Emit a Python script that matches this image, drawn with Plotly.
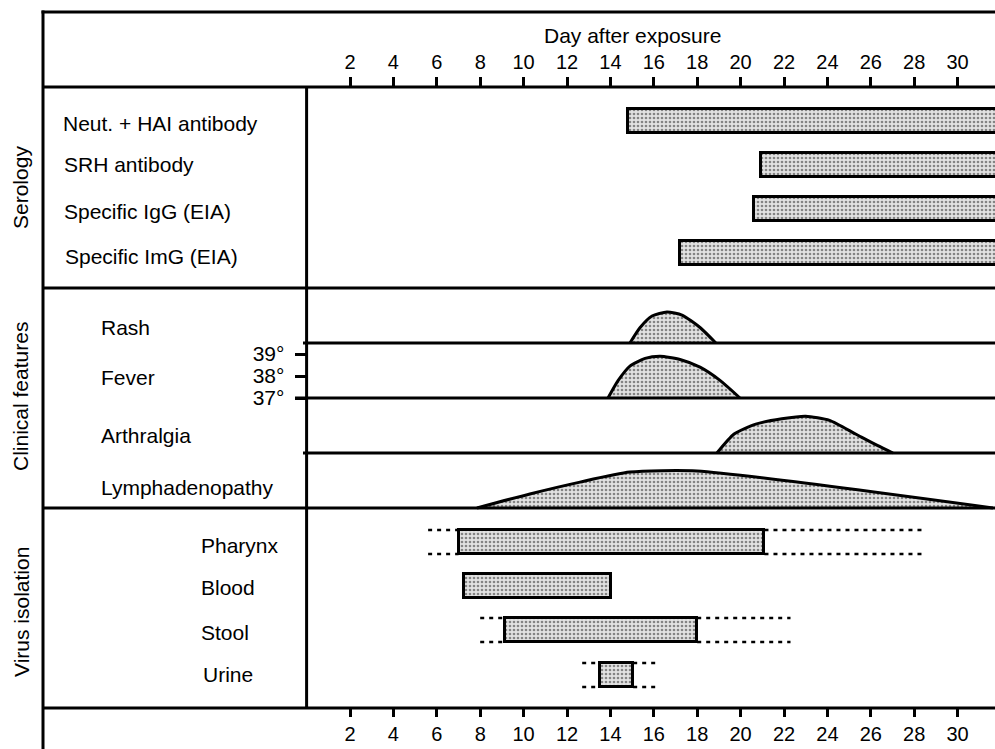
import plotly.graph_objects as go

# ---------------- data ----------------
day_ticks = list(range(2, 31, 2))
ONGOING = 32  # beyond the last plotted day

serology_labels = ["Neut. + HAI antibody", "SRH antibody", "Specific IgG (EIA)", "Specific ImG (EIA)"]
serology_start = [14.8, 20.95, 20.6, 17.2]
serology_end = [ONGOING, ONGOING, ONGOING, ONGOING]

clinical_labels = ["Rash", "Fever", "Arthralgia", "Lymphadenopathy"]
rash_day = [14.9, 15.37, 15.92, 16.61, 17.3, 18.13, 18.86]
rash_level = [0, 0.5, 0.87, 1.0, 0.9, 0.5, 0]
fever_day = [13.89, 14.36, 14.9, 15.6, 16.29, 17.21, 18.13, 19.05, 19.97]
fever_temp = [37.0, 37.8, 38.45, 38.8, 38.9, 38.75, 38.4, 37.8, 37.0]
temp_ticks = [37, 38, 39]
arth_day = [18.91, 19.7, 20.7, 21.9, 23.0, 24.1, 25.3, 26.3, 27.02]
arth_level = [0, 0.5, 0.76, 0.9, 0.97, 0.86, 0.5, 0.2, 0]
lymph_day = [7.85, 10.29, 12.6, 14.9, 17.99, 31.63]
lymph_level = [0, 0.38, 0.7, 0.97, 1.0, 0]

virus_labels = ["Pharynx", "Blood", "Stool", "Urine"]
virus_start = [7.0, 7.25, 9.15, 13.5]
virus_end = [21.1, 14.05, 18.0, 15.05]
virus_dash_start = [5.6, None, 8.0, 12.7]
virus_dash_end = [28.5, None, 22.3, 16.1]

# ---------------- layout constants (pixels) ----------------
W, H = 995, 749
PPD = 21.7        # pixels per day
X0 = 306.6        # pixel of day 0
LEFT = 43
FONT = "Liberation Sans, Arial, Helvetica, sans-serif"
LW = 3
FILL = dict(shape=".", fgcolor="#262626", bgcolor="#e2e2e2", size=4, solidity=0.35)
FILLC = "#d6d6d6"

serology_bar_y = [121, 164.5, 209, 253]
serology_text_y = [123, 164, 211, 256]
virus_bar_y = [542, 585.5, 630, 675]
virus_text_y = [545, 587, 632, 674]
BAR_H = 24

rash_base, rash_h = 343, 31
arth_base, arth_h = 453, 38
lymph_base, lymph_h = 508, 37
fever_base_px, fever_px_per_deg = 398, 22


def day_at(p):
    return (p - X0) / PPD


def fx(p):
    return p / W


fig = go.Figure()

# bars (serology + virus isolation)
bar_y = serology_bar_y + virus_bar_y
bar_start = serology_start + virus_start
bar_end = serology_end + virus_end
fig.add_trace(go.Bar(
    orientation="h", y=bar_y, base=bar_start,
    x=[e - s for s, e in zip(bar_start, bar_end)],
    width=[BAR_H] * len(bar_y),
    marker=dict(color=FILLC, line=dict(color="black", width=LW), pattern=FILL),
    showlegend=False, hoverinfo="skip", xaxis="x", yaxis="y"))

# dashed extensions for virus isolation
for i in range(len(virus_labels)):
    if virus_dash_start[i] is None:
        continue
    for edge in (-BAR_H / 2, BAR_H / 2):
        yy = virus_bar_y[i] + edge
        for a, b in ((virus_dash_start[i], virus_start[i]), (virus_end[i], virus_dash_end[i])):
            fig.add_trace(go.Scatter(x=[a, b], y=[yy, yy], mode="lines",
                                     line=dict(color="black", width=2.5, dash="4px,5px"),
                                     showlegend=False, hoverinfo="skip"))

# humps
def hump(days, levels, base, h):
    fig.add_trace(go.Scatter(
        x=days, y=[base - h * v for v in levels], mode="lines", fill="toself",
        fillcolor=FILLC, fillpattern=FILL,
        line=dict(color="black", width=LW, shape="spline", smoothing=0.6),
        showlegend=False, hoverinfo="skip"))

hump(rash_day, rash_level, rash_base, rash_h)
hump(arth_day, arth_level, arth_base, arth_h)
hump(lymph_day, lymph_level, lymph_base, lymph_h)

fig.add_trace(go.Scatter(
    x=fever_day, y=fever_temp, mode="lines", fill="toself",
    fillcolor=FILLC, fillpattern=FILL,
    line=dict(color="black", width=LW, shape="spline", smoothing=0.6),
    showlegend=False, hoverinfo="skip", xaxis="x", yaxis="y2"))

# dummy traces for tick axes
fig.add_trace(go.Scatter(x=[None], y=[None], xaxis="x2", yaxis="y", showlegend=False))
fig.add_trace(go.Scatter(x=[None], y=[None], xaxis="x3", yaxis="y", showlegend=False))

# frame lines
shapes = []
def hline(y, x_a, x_b, yref="y"):
    shapes.append(dict(type="line", xref="paper", yref=yref, x0=fx(x_a), x1=fx(x_b),
                       y0=y, y1=y, line=dict(color="black", width=LW)))
def vline(x, y_a, y_b):
    shapes.append(dict(type="line", xref="paper", yref="y", x0=fx(x), x1=fx(x),
                       y0=y_a, y1=y_b, line=dict(color="black", width=LW)))

hline(12, LEFT - 1.5, W)
hline(87, LEFT, W)
hline(288, LEFT, W)
hline(508, LEFT, W)
hline(708, LEFT, W)
vline(LEFT, 10.5, H)
vline(X0, 87, 708)
hline(rash_base, 303, W)
hline(arth_base, 303, W)
hline(temp_ticks[0], 295, W, yref="y2")

# annotations
ann = []
def text(x, y, s, anchor="left", angle=0, size=21):
    ann.append(dict(x=fx(x), y=y, xref="paper", yref="y", text=s, showarrow=False,
                    xanchor=anchor, yanchor="middle", textangle=angle,
                    font=dict(family=FONT, size=size, color="black")))

text(632, 35, "Day after exposure", anchor="center")
for lbl, y, x in zip(serology_labels, serology_text_y, [61, 62, 62, 63]):
    text(x, y, lbl)
for lbl, y in zip(clinical_labels, [327, 377, 435, 487]):
    text(99, y, lbl)
for lbl, y, x in zip(virus_labels, virus_text_y, [199, 199, 199, 201]):
    text(x, y, lbl)
text(20, 188, "Serology", anchor="center", angle=-90)
text(20, 397, "Clinical features", anchor="center", angle=-90)
text(21, 612, "Virus isolation", anchor="center", angle=-90)

tickfont = dict(family=FONT, size=20, color="black")
fever_top_px = 332
fever_bottom_px = 420
fig.update_layout(
    width=W, height=H, margin=dict(l=0, r=0, t=0, b=0, autoexpand=False),
    paper_bgcolor="white", plot_bgcolor="rgba(0,0,0,0)",
    barmode="overlay", bargap=0,
    shapes=shapes, annotations=ann,
    xaxis=dict(domain=[0, 1], range=[day_at(0), day_at(W)], visible=False, fixedrange=True),
    yaxis=dict(domain=[0, 1], range=[H, 0], visible=False, fixedrange=True),
    yaxis2=dict(domain=[1 - fever_bottom_px / H, 1 - fever_top_px / H],
                range=[37 - (fever_bottom_px - fever_base_px) / fever_px_per_deg,
                       37 + (fever_base_px - fever_top_px) / fever_px_per_deg],
                anchor="free", position=fx(X0), side="left",
                tickvals=temp_ticks, ticktext=[f"{t}°" for t in temp_ticks],
                ticks="outside", ticklen=12, tickwidth=LW, tickcolor="black",
                showline=False, showgrid=False, zeroline=False,
                tickfont=dict(family=FONT, size=21, color="black"),
                ticklabelstandoff=6, fixedrange=True),
    xaxis2=dict(domain=[fx(LEFT), 1], range=[day_at(LEFT), day_at(W)],
                anchor="free", position=1 - 87 / H, side="top",
                tickvals=day_ticks, ticks="outside", ticklen=10, tickwidth=LW,
                tickcolor="black", showline=False, showgrid=False, zeroline=False,
                tickfont=tickfont, fixedrange=True),
    xaxis3=dict(domain=[fx(LEFT), 1], range=[day_at(LEFT), day_at(W)],
                anchor="free", position=1 - 708 / H, side="bottom",
                tickvals=day_ticks, ticks="outside", ticklen=8, tickwidth=LW,
                tickcolor="black", showline=False, showgrid=False, zeroline=False,
                tickfont=tickfont, fixedrange=True),
)

fig.write_html("out.html", config={"displayModeBar": False},
               post_script="document.body.style.margin='0';document.body.style.overflow='hidden';")
